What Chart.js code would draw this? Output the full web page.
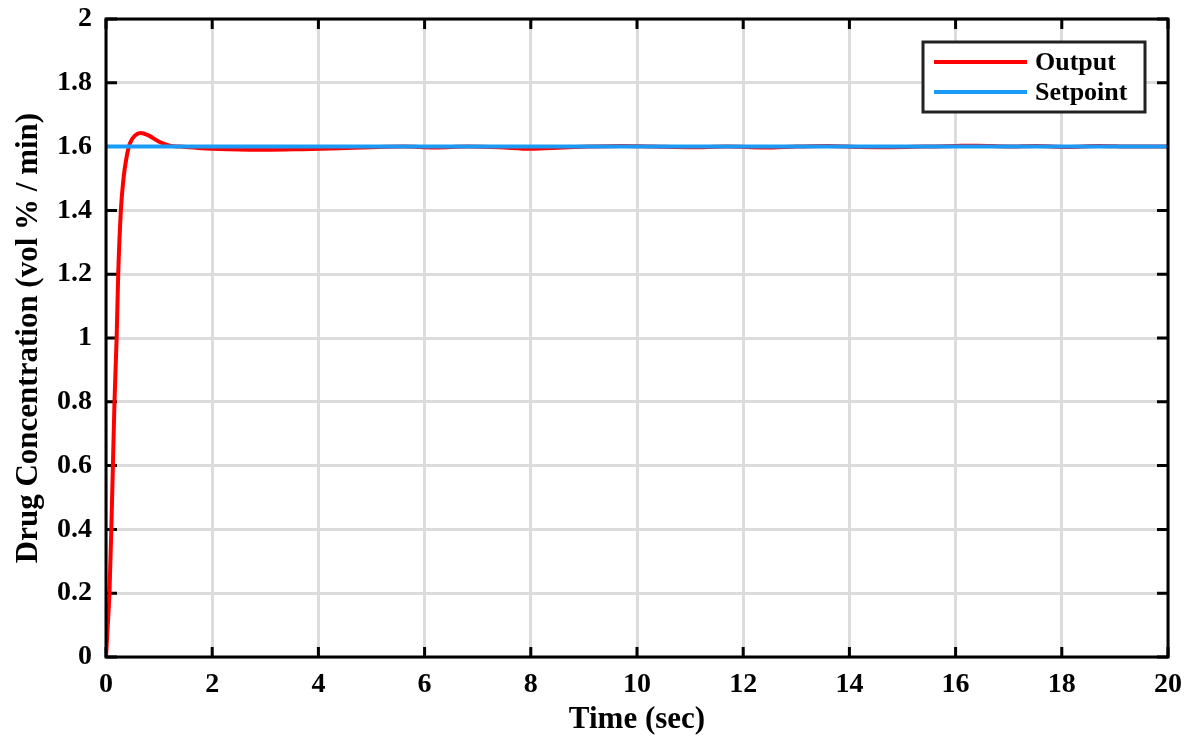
<!DOCTYPE html>
<html>
<head>
<meta charset="utf-8">
<script src="https://cdn.jsdelivr.net/npm/chart.js@4.4.0/dist/chart.umd.min.js"></script>
<style>
  body { margin: 0; background: #fff; }
  canvas { display: block; }
</style>
</head>
<body>
<canvas id="myChart" width="1200" height="746"></canvas>
<script>
// values
const outputTime = [0, 0.03, 0.065, 0.1, 0.13, 0.16, 0.2, 0.23, 0.28, 0.33, 0.38, 0.45, 0.55, 0.65, 0.8, 1.0, 1.2, 1.4, 1.8, 2.3, 3.0, 3.7, 4.4, 5.0, 5.6, 6.2, 6.8, 7.4, 8.0, 8.6, 9.1, 9.7, 10.3, 11, 11.7, 12.4, 13, 13.6, 14.2, 14.8, 15.4, 16, 16.4, 17, 17.5, 18.1, 18.7, 19.3, 20];
const outputValue = [0, 0.09, 0.2, 0.4, 0.6, 0.8, 1.0, 1.2, 1.4, 1.5, 1.56, 1.61, 1.635, 1.643, 1.635, 1.615, 1.603, 1.6, 1.595, 1.592, 1.59, 1.592, 1.595, 1.598, 1.6, 1.597, 1.6, 1.598, 1.593, 1.597, 1.6, 1.602, 1.6, 1.598, 1.6, 1.597, 1.6, 1.602, 1.599, 1.598, 1.6, 1.602, 1.603, 1.6, 1.602, 1.599, 1.602, 1.6, 1.6];
const setpointTime = [0, 20];
const setpointValue = [1.6, 1.6];
const xTickLabels = ['0', '2', '4', '6', '8', '10', '12', '14', '16', '18', '20'];
const yTickLabels = ['0', '0.2', '0.4', '0.6', '0.8', '1', '1.2', '1.4', '1.6', '1.8', '2'];

const serif = "'Liberation Serif', 'Times New Roman', serif";

function toPoints(xs, ys) {
    return xs.map((x, i) => ({ x: x, y: ys[i] }));
}

// inward ticks under the lines, box and legend on top (MATLAB look)
const framePlugin = {
    id: 'frame',
    beforeDatasetsDraw(chart) {
        const ctx = chart.ctx;
        const a = chart.chartArea;
        const xs = chart.scales.x;
        const ys = chart.scales.y;
        ctx.save();
        ctx.strokeStyle = '#000';
        ctx.lineWidth = 3;
        ctx.beginPath();
        xs.ticks.forEach((t) => {
            const px = xs.getPixelForValue(t.value);
            ctx.moveTo(px, a.bottom); ctx.lineTo(px, a.bottom - 10);
            ctx.moveTo(px, a.top); ctx.lineTo(px, a.top + 10);
        });
        ys.ticks.forEach((t) => {
            const py = ys.getPixelForValue(t.value);
            ctx.moveTo(a.left, py); ctx.lineTo(a.left + 11, py);
            ctx.moveTo(a.right, py); ctx.lineTo(a.right - 11, py);
        });
        ctx.stroke();
        ctx.restore();
    },
    afterDatasetsDraw(chart) {
        const ctx = chart.ctx;
        const a = chart.chartArea;
        ctx.save();
        ctx.strokeStyle = '#000';
        ctx.lineWidth = 3;
        ctx.strokeRect(a.left, a.top, a.right - a.left, a.bottom - a.top);
        ctx.restore();
    },
    afterDraw(chart) {
        const ctx = chart.ctx;
        const sets = [chart.data.datasets[1], chart.data.datasets[0]];
        const bx = 923, by = 42, bw = 222, bh = 70;
        ctx.save();
        ctx.fillStyle = '#fff';
        ctx.fillRect(bx, by, bw, bh);
        ctx.strokeStyle = '#222';
        ctx.lineWidth = 3;
        ctx.strokeRect(bx, by, bw, bh);
        ctx.font = 'bold 26px ' + serif;
        ctx.textBaseline = 'middle';
        ctx.fillStyle = '#000';
        sets.forEach((ds, i) => {
            const y = by + 20 + i * 30;
            ctx.strokeStyle = ds.borderColor;
            ctx.lineWidth = 4;
            ctx.beginPath();
            ctx.moveTo(bx + 11, y);
            ctx.lineTo(bx + 104, y);
            ctx.stroke();
            ctx.fillText(ds.label, bx + 112, y + 1);
        });
        ctx.restore();
    }
};

const ctx = document.getElementById('myChart').getContext('2d');
const myChart = new Chart(ctx, {
    type: 'line',
    data: {
        datasets: [{
            label: 'Setpoint',
            data: toPoints(setpointTime, setpointValue),
            borderColor: '#1a9bf5',
            borderWidth: 4,
            pointRadius: 0,
            order: 0
        }, {
            label: 'Output',
            data: toPoints(outputTime, outputValue),
            borderColor: '#ff0000',
            borderWidth: 4,
            pointRadius: 0,
            cubicInterpolationMode: 'monotone',
            order: 1
        }]
    },
    options: {
        responsive: false,
        animation: false,
        devicePixelRatio: 1,
        layout: { padding: { top: 19, right: 32, left: 0, bottom: 0 } },
        plugins: {
            legend: { display: false },
            tooltip: { enabled: false }
        },
        scales: {
            x: {
                type: 'linear',
                min: 0,
                max: 20,
                afterFit: (scale) => { scale.height = 89; },
                grid: { color: '#dcdcdc', lineWidth: 3, drawTicks: false },
                border: { display: false },
                ticks: {
                    stepSize: 2,
                    autoSkip: false,
                    maxRotation: 0,
                    padding: 11,
                    color: '#000',
                    font: { family: serif, size: 28, weight: 'bold' },
                    callback: (v, i) => xTickLabels[i]
                },
                title: {
                    display: true,
                    text: 'Time (sec)',
                    color: '#000',
                    font: { family: serif, size: 31, weight: 'bold' },
                    padding: { top: 0, bottom: 7 }
                }
            },
            y: {
                min: 0,
                max: 2,
                afterFit: (scale) => {
                    scale.width = 106;
                    scale.paddingTop = 0;
                    scale.paddingBottom = 0;
                },
                grid: { color: '#dcdcdc', lineWidth: 3, drawTicks: false },
                border: { display: false },
                ticks: {
                    stepSize: 0.2,
                    autoSkip: false,
                    padding: 14,
                    color: '#000',
                    font: { family: serif, size: 28, weight: 'bold' },
                    callback: (v, i) => yTickLabels[i]
                },
                title: {
                    display: true,
                    text: 'Drug Concentration (vol % / min)',
                    color: '#000',
                    font: { family: serif, size: 31, weight: 'bold' },
                    padding: { top: 10, bottom: 0 }
                }
            }
        }
    },
    plugins: [framePlugin]
});
</script>
</body>
</html>
